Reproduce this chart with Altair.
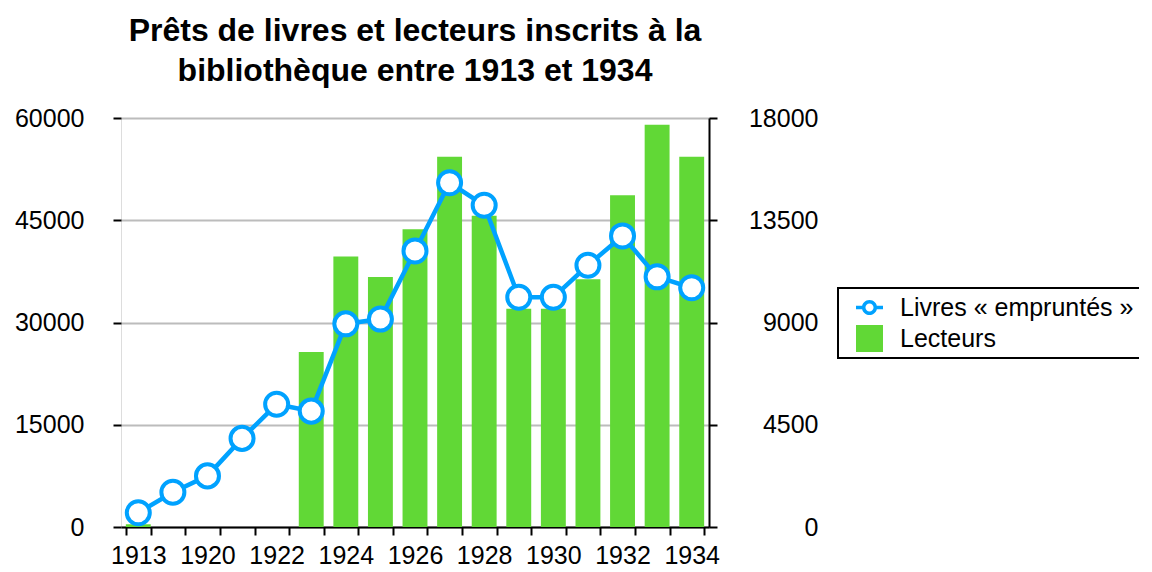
import altair as alt
import pandas as pd

# ---- data ----
years = ["1913", "1919", "1920", "1921", "1922", "1923", "1924", "1925", "1926",
         "1927", "1928", "1929", "1930", "1931", "1932", "1933", "1934"]
livres = [2100, 5100, 7500, 13000, 18000, 17000, 29800, 30500, 40500,
          50500, 47200, 33700, 33700, 38400, 42700, 36700, 35100]
lecteurs = [120, None, None, None, None, 7700, 11900, 11000, 13100,
            16300, 13700, 9600, 9600, 10900, 14600, 17700, 16300]
shown_year_labels = ["1913", "1920", "1922", "1924", "1926", "1928", "1930", "1932", "1934"]
left_ticks = [0, 15000, 30000, 45000, 60000]
right_ticks = [0, 4500, 9000, 13500, 18000]
series_names = ["Livres « empruntés »", "Lecteurs"]
title_lines = ["Prêts de livres et lecteurs inscrits à la", "bibliothèque entre 1913 et 1934"]

BLUE = "#00A2FF"
GREEN = "#61D836"
FONT = "Liberation Sans"

df = pd.DataFrame({"year": years, "livres": livres, "lecteurs": lecteurs})
legend_df = pd.DataFrame({"series": series_names})

label_expr = "indexof([" + ",".join("'%s'" % y for y in shown_year_labels) + "], datum.value) >= 0 ? datum.label : ''"

x_enc = alt.X(
    "year:O", sort=years, title=None,
    scale=alt.Scale(paddingInner=0.28, paddingOuter=0.14),
    axis=alt.Axis(labelAngle=0, labelExpr=label_expr, labelOverlap=False,
                  tickBand="extent", domainColor="black", domainWidth=2,
                  tickColor="black", tickWidth=2, tickSize=8,
                  labelFontSize=25, labelFont=FONT, labelColor="black",
                  labelPadding=8, grid=False),
)

bars = alt.Chart(df).mark_bar(color=GREEN).encode(
    x=x_enc,
    y=alt.Y("lecteurs:Q", title=None,
            scale=alt.Scale(domain=[0, 18000], nice=False),
            axis=alt.Axis(orient="right", values=right_ticks, grid=False, format="d",
                          domainColor="black", domainWidth=2,
                          tickColor="black", tickWidth=2, tickSize=8,
                          labelAlign="right", labelPadding=101,
                          labelFontSize=25, labelFont=FONT, labelColor="black")),
)

y_left = alt.Y("livres:Q", title=None,
               scale=alt.Scale(domain=[0, 60000], nice=False),
               axis=alt.Axis(orient="left", values=left_ticks, grid=True, format="d",
                             gridColor="#bcbcbc", gridWidth=2, domain=False,
                             tickColor="black", tickWidth=2, tickSize=8,
                             labelPadding=29, labelFontSize=25, labelFont=FONT,
                             labelColor="black"))

line = alt.Chart(df).mark_line(color=BLUE, strokeWidth=4.5).encode(x=x_enc, y=y_left)
points = alt.Chart(df).mark_point(filled=False, fill="white", fillOpacity=1,
                                  stroke=BLUE, strokeWidth=4, size=530,
                                  opacity=1).encode(x=x_enc, y=y_left)
left_layer = alt.layer(line, points)

ring_path = ("M0.56,0 A0.56,0.56 0 1,1 -0.56,0 A0.56,0.56 0 1,1 0.56,0 Z "
             "M0.3,0 A0.3,0.3 0 1,0 -0.3,0 A0.3,0.3 0 1,0 0.3,0 Z "
             "M-1,-0.13 L-0.52,-0.13 L-0.52,0.13 L-1,0.13 Z "
             "M0.52,-0.13 L1,-0.13 L1,0.13 L0.52,0.13 Z")

legend_layer = alt.Chart(legend_df).transform_filter("false").mark_point(
    filled=True, opacity=1
).encode(
    color=alt.Color("series:N", title=None,
                    scale=alt.Scale(domain=series_names, range=[BLUE, GREEN]),
                    legend=alt.Legend(orient="none", legendX=717, legendY=170,
                                      strokeColor="black",
                                      fillColor="white", padding=6,
                                      symbolSize=729, symbolOffset=12,
                                      symbolStrokeWidth=0, symbolOpacity=1,
                                      labelOffset=17,
                                      labelFontSize=25, labelFont=FONT,
                                      labelColor="black", labelLimit=400,
                                      rowPadding=4)),
    shape=alt.Shape("series:N", title=None,
                    scale=alt.Scale(domain=series_names, range=[ring_path, "square"])),
)

chart = alt.layer(bars, left_layer, legend_layer).resolve_scale(
    y="independent"
).properties(
    width=588, height=409,
    title=alt.TitleParams(text=title_lines, font=FONT, fontSize=32,
                          fontWeight="bold", color="black", anchor="middle",
                          lineHeight=40, offset=18),
    autosize=alt.AutoSizeParams(type="none"),
    padding={"left": 113, "top": 110, "right": 430, "bottom": 44},
).configure_view(stroke=None).configure(background="white").configure_legend(
    strokeWidth=2, cornerRadius=0
)

chart.save("out.html", embed_options={"renderer": "svg", "actions": False})
